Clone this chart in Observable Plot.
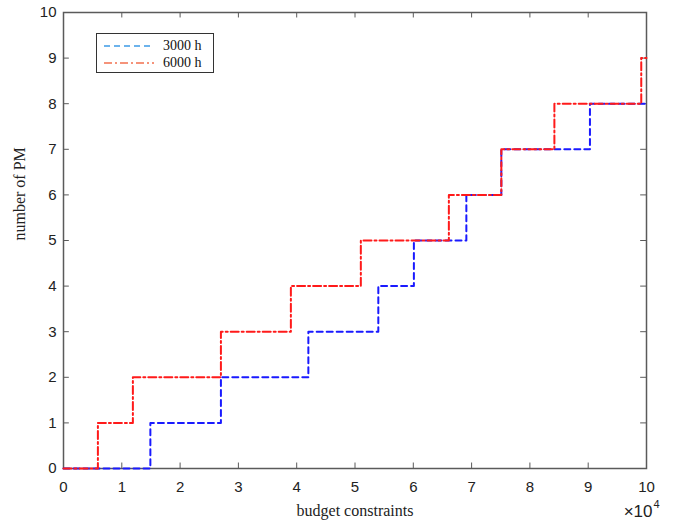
<!DOCTYPE html>
<html>
<head>
<meta charset="utf-8">
<script src="https://cdn.jsdelivr.net/npm/d3@7"></script>
<script src="https://cdn.jsdelivr.net/npm/@observablehq/plot@0.6"></script>
<style>
  html, body { margin: 0; padding: 0; background: #fff; }
  #wrap { position: relative; width: 676px; height: 527px; }
  #legend { position: absolute; left: 96px; top: 33px; width: 116px; height: 38px;
    border: 1px solid #333; background: #fff; font-family: "Liberation Serif", serif; font-size: 14px; }
</style>
</head>
<body>
<div id="wrap"></div>
<script>
// Series: budget constraint (x10^4) where the number of PM steps up
const budget3000 = [0, 1.49, 2.70, 4.20, 5.40, 6.01, 6.91, 7.51, 9.03, 10];
const pm3000     = [0, 1,    2,    3,    4,    5,    6,    7,    8,    8];
const budget6000 = [0, 0.59, 1.19, 2.70, 3.90, 5.10, 6.61, 7.51, 8.42, 9.91, 10];
const pm6000     = [0, 1,    2,    3,    4,    5,    6,    7,    8,    9,    9];
const xTicks = [0, 1, 2, 3, 4, 5, 6, 7, 8, 9, 10];
const yTicks = [0, 1, 2, 3, 4, 5, 6, 7, 8, 9, 10];
const seriesNames = ["3000 h", "6000 h"];

const s3000 = budget3000.map((x, i) => ({x, y: pm3000[i]}));
const s6000 = budget6000.map((x, i) => ({x, y: pm6000[i]}));

const axisColor = "#5a5a5a";
const sans = "Liberation Sans, Arial, sans-serif";
const serif = "Liberation Serif, Times New Roman, serif";

const chart = Plot.plot({
  width: 676,
  height: 527,
  marginLeft: 63,
  marginRight: 30,
  marginTop: 12,
  marginBottom: 59,
  style: {background: "#fff", fontFamily: sans},
  x: {domain: [0, 10]},
  y: {domain: [0, 10]},
  marks: [
    Plot.axisX(xTicks, {anchor: "bottom", tickSize: 0, tickPadding: 13, fontSize: 15, fill: "#222", fontFamily: sans, label: null}),
    Plot.axisY(yTicks, {anchor: "left", tickSize: 0, tickPadding: 7, fontSize: 15, fill: "#222", fontFamily: sans, label: null}),
    Plot.frame({stroke: axisColor, strokeWidth: 1.5}),
    // inward ticks on all four sides
    Plot.ruleX(xTicks, {x: d => d, y1: 0, y2: 0.12, stroke: axisColor, strokeWidth: 1}),
    Plot.ruleX(xTicks, {x: d => d, y1: 9.88, y2: 10, stroke: axisColor, strokeWidth: 1}),
    Plot.ruleY(yTicks, {y: d => d, x1: 0, x2: 0.1, stroke: axisColor, strokeWidth: 1}),
    Plot.ruleY(yTicks, {y: d => d, x1: 9.9, x2: 10, stroke: axisColor, strokeWidth: 1}),
    Plot.line(s3000, {x: "x", y: "y", curve: "step-after", stroke: "#1a1aff", strokeWidth: 2, strokeDasharray: "6,4"}),
    Plot.line(s6000, {x: "x", y: "y", curve: "step-after", stroke: "#ff1a1a", strokeWidth: 2, strokeDasharray: "8,3,2,3"}),
    Plot.text(["budget constraints"], {frameAnchor: "bottom", dy: 47, fontFamily: serif, fontSize: 16, fill: "#222"}),
    Plot.text(["number of PM"], {frameAnchor: "left", dx: -44, rotate: -90, fontFamily: serif, fontSize: 16, fill: "#222"}),
    Plot.text(["\u00d710"], {frameAnchor: "bottom-right", dx: 6, dy: 48, textAnchor: "end", fontFamily: sans, fontSize: 17, fill: "#222"}),
    Plot.text(["4"], {frameAnchor: "bottom-right", dx: 13, dy: 39, textAnchor: "end", fontFamily: sans, fontSize: 11, fill: "#222"})
  ]
});

const wrap = document.getElementById("wrap");
wrap.appendChild(chart);

const legend = document.createElement("div");
legend.id = "legend";
const colors = ["#3d9ae6", "#f2704f"];
const dashes = ["6,4", "8,3,2,3"];
legend.innerHTML = seriesNames.map((n, i) =>
  `<div style="position:absolute;left:6px;top:${4 + i * 17}px;height:16px;display:flex;align-items:center;">
     <svg width="52" height="10"><line x1="1" y1="5" x2="51" y2="5" stroke="${colors[i]}" stroke-width="1.5" stroke-dasharray="${dashes[i]}"/></svg>
     <span style="margin-left:8px;color:#111;">${n}</span>
   </div>`).join("");
wrap.appendChild(legend);
</script>
</body>
</html>
